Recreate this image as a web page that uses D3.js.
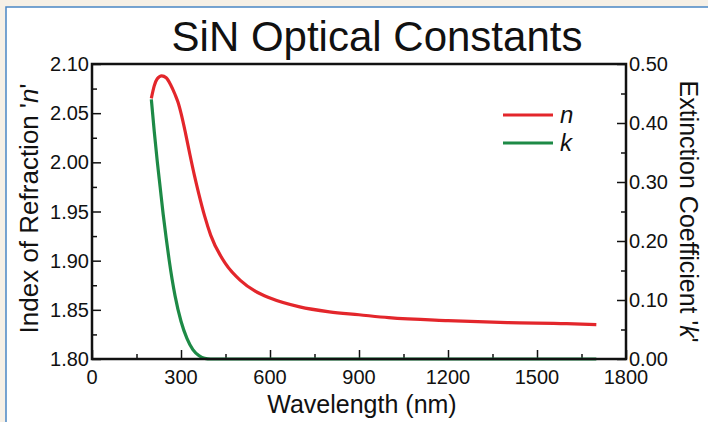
<!DOCTYPE html>
<html>
<head>
<meta charset="utf-8">
<script src="https://cdn.jsdelivr.net/npm/d3@7"></script>
<style>
  html, body { margin: 0; padding: 0; background: #f6f0e6; }
  #chart { width: 708px; height: 422px; }
  text { font-family: "Liberation Sans", Arial, sans-serif; fill: #111; }
</style>
</head>
<body>
<div id="chart"></div>
<script>
// wavelength (nm) and refractive index n
const nWave = [200, 210, 220, 235, 250, 265, 280, 290, 300, 315, 330, 345, 360, 380, 400, 450, 500, 550, 600, 700, 800, 900, 1000, 1200, 1400, 1600, 1700];
const nValues = [2.065, 2.078, 2.085, 2.088, 2.086, 2.079, 2.069, 2.061, 2.050, 2.030, 2.008, 1.987, 1.968, 1.945, 1.926, 1.897, 1.880, 1.869, 1.862, 1.853, 1.848, 1.845, 1.842, 1.839, 1.837, 1.836, 1.835];

// wavelength (nm) and extinction coefficient k
const kWave = [200, 210, 220, 230, 240, 250, 260, 270, 280, 300, 320, 340, 360, 380, 400, 600, 900, 1200, 1500, 1700];
const kValues = [0.44, 0.385, 0.335, 0.29, 0.245, 0.205, 0.168, 0.135, 0.107, 0.064, 0.035, 0.016, 0.006, 0.001, 0, 0, 0, 0, 0, 0];

const xTicks = [0, 300, 600, 900, 1200, 1500, 1800];
const nTicks = [1.80, 1.85, 1.90, 1.95, 2.00, 2.05, 2.10];
const kTicks = [0, 0.1, 0.2, 0.3, 0.4, 0.5];

const W = 708, H = 422;
const margin = {top: 64, right: 82, bottom: 63, left: 92}; // plot area
const width = W - margin.left - margin.right;
const height = H - margin.top - margin.bottom;

const svg = d3.select("#chart").append("svg")
    .attr("width", W)
    .attr("height", H);

// white panel with blue border
svg.append("rect")
    .attr("x", 6).attr("y", 7)
    .attr("width", W).attr("height", H)
    .attr("fill", "#fff")
    .attr("stroke", "#4a86c5")
    .attr("stroke-width", 1.5);

const g = svg.append("g")
    .attr("transform", `translate(${margin.left},${margin.top})`);

const x = d3.scaleLinear().domain([0, 1800]).range([0, width]);
const yN = d3.scaleLinear().domain([1.80, 2.10]).range([height, 0]);
const yK = d3.scaleLinear().domain([0, 0.5]).range([height, 0]);

// minor ticks first (inward)
g.append("g")
    .attr("transform", `translate(0,${height})`)
    .call(d3.axisTop(x).tickValues(d3.range(150, 1800, 300)).tickSize(5).tickFormat(""))
    .call(a => a.select(".domain").remove());
g.append("g")
    .call(d3.axisRight(yN).tickValues(d3.range(1.825, 2.1, 0.05)).tickSize(5).tickFormat(""))
    .call(a => a.select(".domain").remove());
g.append("g")
    .attr("transform", `translate(${width},0)`)
    .call(d3.axisLeft(yK).tickValues(d3.range(0.05, 0.5, 0.1)).tickSize(5).tickFormat(""))
    .call(a => a.select(".domain").remove());

// major ticks
g.append("g")
    .attr("transform", `translate(0,${height})`)
    .call(d3.axisTop(x).tickValues(xTicks).tickSize(9).tickFormat(""))
    .call(a => a.select(".domain").remove());
g.append("g")
    .call(d3.axisRight(yN).tickValues(nTicks).tickSize(9).tickFormat(""))
    .call(a => a.select(".domain").remove());
g.append("g")
    .attr("transform", `translate(${width},0)`)
    .call(d3.axisLeft(yK).tickValues(kTicks).tickSize(9).tickFormat(""))
    .call(a => a.select(".domain").remove());

g.selectAll(".tick line").attr("stroke", "#111").attr("stroke-width", 1.5);

// tick labels
g.selectAll(".xlab").data(xTicks).enter().append("text")
    .attr("x", d => x(d))
    .attr("y", height + 25)
    .attr("text-anchor", "middle")
    .style("font-size", "20px")
    .text(d => d);
g.selectAll(".nlab").data(nTicks).enter().append("text")
    .attr("x", -3)
    .attr("y", d => yN(d) + 7)
    .attr("text-anchor", "end")
    .style("font-size", "20px")
    .text(d => d.toFixed(2));
g.selectAll(".klab").data(kTicks).enter().append("text")
    .attr("x", width + 3)
    .attr("y", d => yK(d) + 7)
    .attr("text-anchor", "start")
    .style("font-size", "20px")
    .text(d => d.toFixed(2));

// curves
const nLine = d3.line()
    .x((d, i) => x(nWave[i]))
    .y(d => yN(d))
    .curve(d3.curveMonotoneX);
const kLine = d3.line()
    .x((d, i) => x(kWave[i]))
    .y(d => yK(d))
    .curve(d3.curveMonotoneX);

g.append("path")
    .datum(kValues)
    .attr("d", kLine)
    .attr("fill", "none")
    .attr("stroke", "#1d8a46")
    .attr("stroke-width", 3.2);
g.append("path")
    .datum(nValues)
    .attr("d", nLine)
    .attr("fill", "none")
    .attr("stroke", "#e3262b")
    .attr("stroke-width", 3.2);

// plot frame
g.append("rect")
    .attr("width", width)
    .attr("height", height)
    .attr("fill", "none")
    .attr("stroke", "#111")
    .attr("stroke-width", 2.5);

// legend
const legend = [{label: "n", color: "#e3262b"}, {label: "k", color: "#1d8a46"}];
const lg = g.selectAll(".legend").data(legend).enter().append("g")
    .attr("transform", (d, i) => `translate(411,${51 + i * 28})`);
lg.append("line")
    .attr("x1", 0).attr("x2", 50)
    .attr("stroke", d => d.color)
    .attr("stroke-width", 3.2);
lg.append("text")
    .attr("x", 57).attr("y", 8)
    .style("font-size", "24px")
    .style("font-style", "italic")
    .text(d => d.label);

// titles
svg.append("text")
    .attr("x", 377).attr("y", 51)
    .attr("text-anchor", "middle")
    .style("font-size", "42px")
    .text("SiN Optical Constants");

svg.append("text")
    .attr("x", margin.left + width / 2 + 3).attr("y", 413)
    .attr("text-anchor", "middle")
    .style("font-size", "25px")
    .text("Wavelength (nm)");

const leftTitle = svg.append("text")
    .attr("transform", `translate(38,${margin.top + height / 2 - 3}) rotate(-90)`)
    .attr("text-anchor", "middle")
    .style("font-size", "26px");
leftTitle.append("tspan").text("Index of Refraction '");
leftTitle.append("tspan").style("font-style", "italic").text("n");
leftTitle.append("tspan").text("'");

const rightTitle = svg.append("text")
    .attr("transform", `translate(680,${margin.top + height / 2}) rotate(90)`)
    .attr("text-anchor", "middle")
    .style("font-size", "25px");
rightTitle.append("tspan").text("Extinction Coefficient '");
rightTitle.append("tspan").style("font-style", "italic").text("k");
rightTitle.append("tspan").text("'");
</script>
</body>
</html>
